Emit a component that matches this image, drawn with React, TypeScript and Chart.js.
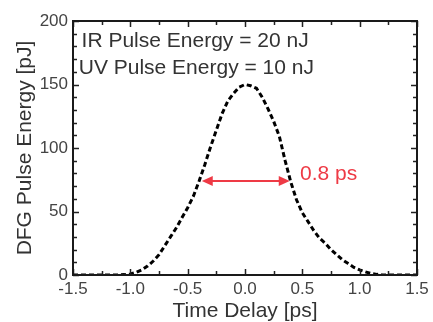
import React, { useEffect, useRef } from "react";
import { Chart, registerables } from "chart.js";

Chart.register(...registerables);

const delays = [
  -1.5, -1.45, -1.4, -1.35, -1.3, -1.25, -1.2, -1.15, -1.1, -1.05,
  -1.0, -0.95, -0.9, -0.85, -0.8, -0.75, -0.7, -0.65, -0.6, -0.55,
  -0.5, -0.45, -0.4, -0.35, -0.3, -0.25, -0.2, -0.15, -0.1, -0.05,
  0.0, 0.05, 0.1, 0.15, 0.2, 0.25, 0.3, 0.35, 0.4, 0.45,
  0.5, 0.55, 0.6, 0.65, 0.7, 0.75, 0.8, 0.85, 0.9, 0.95,
  1.0, 1.05, 1.1, 1.15, 1.2, 1.25, 1.3, 1.35, 1.4, 1.45, 1.5,
];
const energies = [
  0, 0, 0, 0, 0, 0, 0, 0, 0, 0.3,
  0.8, 2, 4, 7, 11, 16, 23, 30, 37, 45,
  53, 62, 74, 87, 101, 114, 127, 137, 143, 148,
  150, 149, 147, 140, 131, 121, 109, 90, 73, 59,
  49, 42, 35, 29, 25, 20, 16, 12, 9, 6,
  4, 2.5, 1.2, 0.5, 0, 0, 0, 0, 0, 0, 0,
];

const xTickLabels = ["-1.5", "-1.0", "-0.5", "0.0", "0.5", "1.0", "1.5"];
const xRange = [-1.5, 1.5];
const yRange = [0, 200];
const xTickStep = 0.5;
const xMinorStep = 0.25;
const yTickStep = 50;
const yMinorStep = 10;

const annotations = [
  { text: "IR Pulse Energy = 20 nJ", x: -1.425, y: 179.5, color: "#333333" },
  { text: "UV Pulse Energy = 10 nJ", x: -1.45, y: 158.3, color: "#333333" },
  { text: "0.8 ps", x: 0.48, y: 74.8, color: "#ee3a45" },
];
const fwhmArrow = { from: -0.377, to: 0.39, y: 74, color: "#ee3a45" };

const FONT = "'Liberation Sans', Arial, Helvetica, sans-serif";

const framePlugin = {
  id: "frameTicks",
  afterDatasetsDraw(chart: any) {
    const { ctx, chartArea, scales } = chart;
    const xs = scales.x;
    const ys = scales.y;
    const { left, right, top, bottom } = chartArea;
    ctx.save();
    // FWHM arrow
    const ax1 = xs.getPixelForValue(fwhmArrow.from);
    const ax2 = xs.getPixelForValue(fwhmArrow.to);
    const ay = ys.getPixelForValue(fwhmArrow.y);
    ctx.strokeStyle = fwhmArrow.color;
    ctx.fillStyle = fwhmArrow.color;
    ctx.lineWidth = 2;
    ctx.beginPath();
    ctx.moveTo(ax1 + 8, ay);
    ctx.lineTo(ax2 - 8, ay);
    ctx.stroke();
    const head = (tip: number, dir: number) => {
      ctx.beginPath();
      ctx.moveTo(tip, ay);
      ctx.lineTo(tip + dir * 11, ay - 5);
      ctx.lineTo(tip + dir * 11, ay + 5);
      ctx.closePath();
      ctx.fill();
    };
    head(ax1, 1);
    head(ax2, -1);

    // annotations
    ctx.font = `21px ${FONT}`;
    ctx.textBaseline = "alphabetic";
    ctx.textAlign = "left";
    for (const a of annotations) {
      ctx.fillStyle = a.color;
      ctx.fillText(a.text, xs.getPixelForValue(a.x), ys.getPixelForValue(a.y));
    }

    // ticks
    ctx.strokeStyle = "#222";
    ctx.lineWidth = 1.5;
    ctx.beginPath();
    for (let v = xRange[0]; v <= xRange[1] + 1e-9; v += xMinorStep) {
      const px = Math.round(xs.getPixelForValue(v)) + 0.5;
      const major = Math.abs(v / xTickStep - Math.round(v / xTickStep)) < 1e-6;
      const len = major ? 6 : 4;
      ctx.moveTo(px, bottom);
      ctx.lineTo(px, bottom - len);
      ctx.moveTo(px, top);
      ctx.lineTo(px, top + len);
    }
    for (let v = yRange[0]; v <= yRange[1] + 1e-9; v += yMinorStep) {
      const py = Math.round(ys.getPixelForValue(v)) + 0.5;
      const major = Math.abs(v / yTickStep - Math.round(v / yTickStep)) < 1e-6;
      const len = major ? 6 : 4;
      ctx.moveTo(left, py);
      ctx.lineTo(left + len, py);
      ctx.moveTo(right, py);
      ctx.lineTo(right - len, py);
    }
    ctx.stroke();
    // frame
    ctx.lineWidth = 2;
    ctx.strokeStyle = "#1a1a1a";
    ctx.strokeRect(left, top, right - left, bottom - top);
    ctx.restore();
  },
};

export default function App() {
  const ref = useRef<HTMLCanvasElement | null>(null);
  useEffect(() => {
    if (!ref.current) return;
    const chart = new Chart(ref.current, {
      type: "line",
      data: {
        datasets: [
          {
            data: delays.map((d, i) => ({ x: d, y: energies[i] })),
            borderColor: "#000",
            borderWidth: 3,
            borderDash: [5, 3],
            pointRadius: 0,
            tension: 0,
          },
        ],
      },
      options: {
        animation: false,
        responsive: false,
        maintainAspectRatio: false,
        layout: { padding: { top: 21, right: 16, left: 0, bottom: 0 } },
        plugins: { legend: { display: false }, tooltip: { enabled: false } },
        scales: {
          x: {
            type: "linear",
            min: xRange[0],
            max: xRange[1],
            grid: { display: false, drawTicks: false },
            border: { display: false },
            afterBuildTicks: (s: any) => {
              s.ticks = xTickLabels.map((l) => ({ value: parseFloat(l) }));
            },
            ticks: {
              padding: 4,
              color: "#444",
              font: { family: FONT, size: 17 },
              maxRotation: 0,
              autoSkip: false,
              callback: (_v: any, i: number) => xTickLabels[i],
            },
            title: {
              display: true,
              text: "Time Delay [ps]",
              color: "#333",
              font: { family: FONT, size: 21, lineHeight: 1.0 },
              padding: { top: 0, bottom: 0 },
            },
            afterFit: (s: any) => {
              s.height = 47;
            },
          },
          y: {
            type: "linear",
            min: yRange[0],
            max: yRange[1],
            grid: { display: false, drawTicks: false },
            border: { display: false },
            ticks: {
              stepSize: yTickStep,
              padding: 5,
              color: "#444",
              font: { family: FONT, size: 17 },
            },
            title: {
              display: true,
              text: "DFG Pulse Energy [pJ]",
              color: "#333",
              font: { family: FONT, size: 21, lineHeight: 1.2 },
              padding: { top: 13, bottom: 0 },
            },
            afterFit: (s: any) => {
              s.width = 73;
            },
          },
        },
      },
      plugins: [framePlugin],
    } as any);
    return () => chart.destroy();
  }, []);
  return (
    <div style={{ position: "absolute", left: 0, top: 0, width: 433, height: 322, background: "#fff" }}>
      <canvas ref={ref} width={433} height={322} style={{ width: 433, height: 322 }} />
    </div>
  );
}
